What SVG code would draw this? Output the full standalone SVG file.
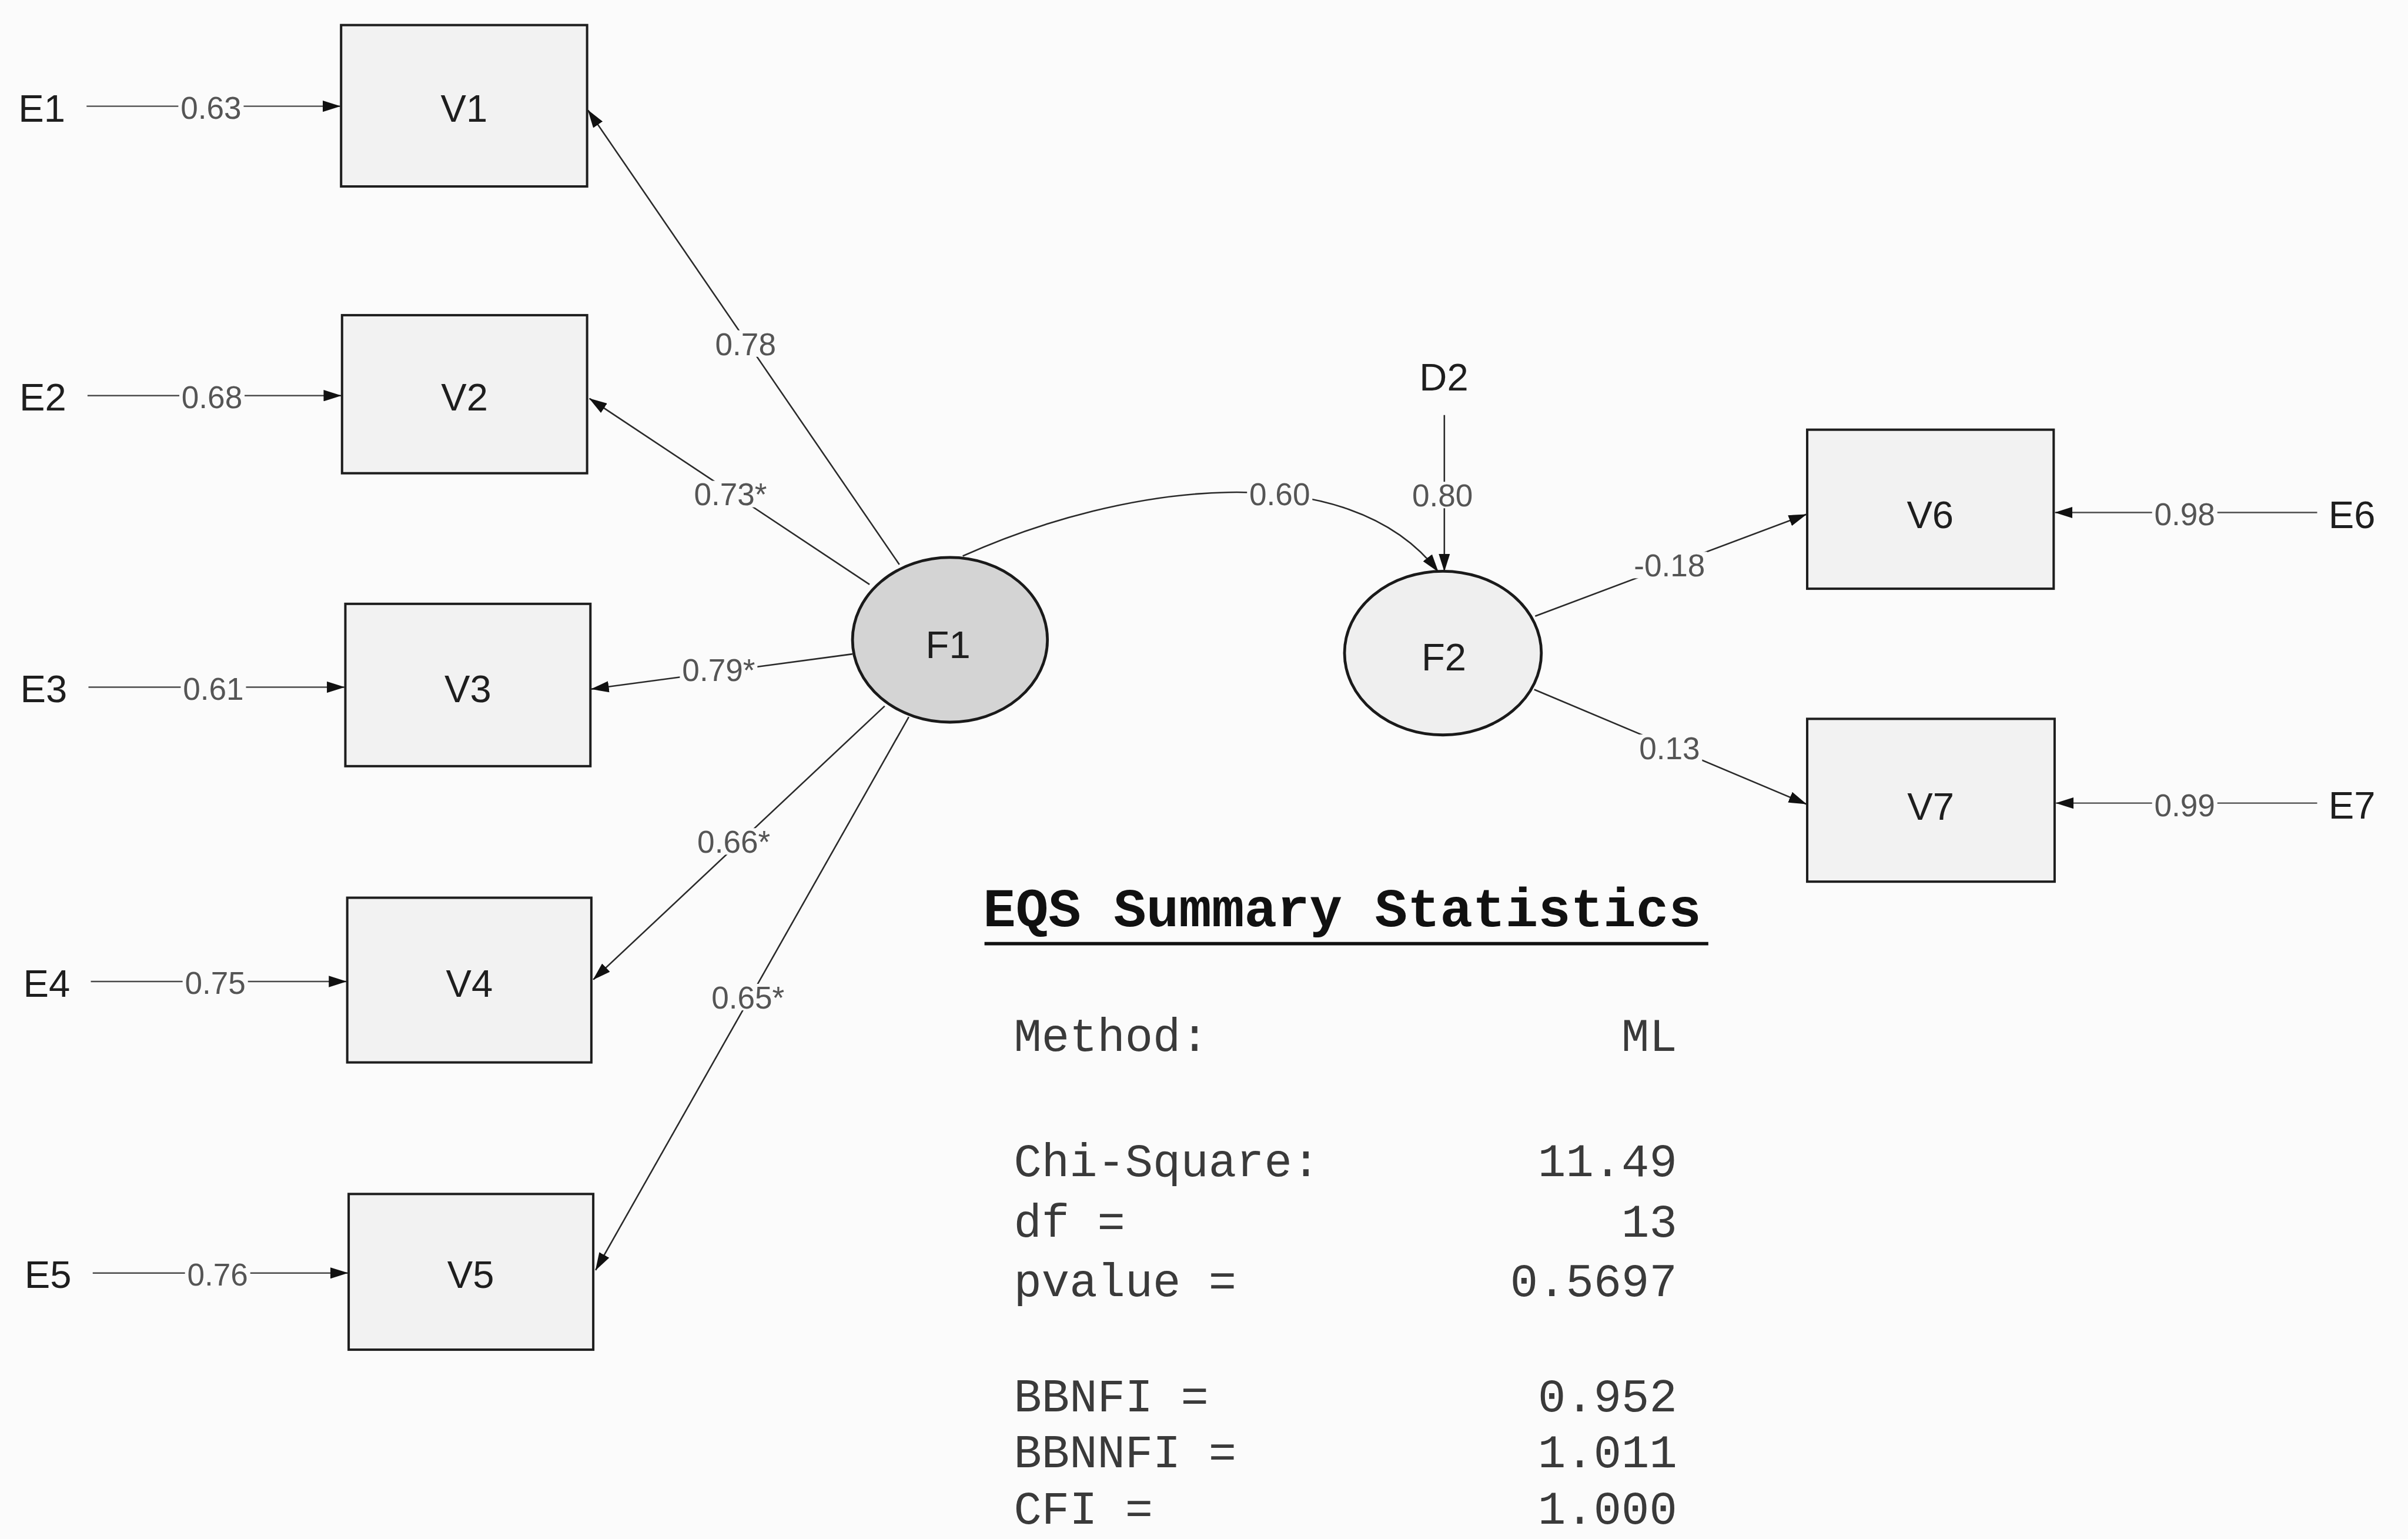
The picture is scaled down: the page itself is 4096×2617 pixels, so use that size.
<svg xmlns="http://www.w3.org/2000/svg" width="4096" height="2617" viewBox="0 0 4096 2617">
  <style>
    .page{fill:#fbfbfb}
    .box{fill:#f2f2f2;stroke:#1e1e1e;stroke-width:5}
    .f1{fill:#d4d4d4;stroke:#1a1a1a;stroke-width:6}
    .f2{fill:#efefef;stroke:#1a1a1a;stroke-width:6}
    .name{font-family:"Liberation Sans",Arial,sans-serif;font-size:81px;fill:#1e1e1e;text-anchor:middle}
    .ename{font-family:"Liberation Sans",Arial,sans-serif;font-size:81px;fill:#1e1e1e}
    .edge{fill:none;stroke:#2a2a2a;stroke-width:3.2;marker-end:url(#ah)}
    .err{fill:none;stroke:#4a4a4a;stroke-width:3;marker-end:url(#ah)}
    .gap{fill:#fbfbfb}
    .coef{font-family:"Liberation Sans",Arial,sans-serif;font-size:66px;fill:#555;text-anchor:middle}
    .title{font-family:"Liberation Mono","Courier New",monospace;font-size:115px;font-weight:bold;fill:#111}
    .mono{font-family:"Liberation Mono","Courier New",monospace;font-size:98px;fill:#3a3a3a}
    .val{text-anchor:end}
  </style>
  <defs>
    <marker id="ah" viewBox="0 0 38 24" refX="37" refY="12" markerWidth="38" markerHeight="24" markerUnits="userSpaceOnUse" orient="auto">
      <path d="M0,0 L38,12 L0,24 z" fill="#111"/>
    </marker>
  </defs>

  <rect class="page" x="0" y="0" width="4096" height="2617"/>

  <!-- drawn in source units, scaled down to the page -->
  <g transform="scale(0.80472)">

    <g id="connectors">
      <!-- error terms into the indicators -->
      <path class="err" d="M183,224.5 L719,224.5"/>
      <path class="err" d="M185,836 L721,836"/>
      <path class="err" d="M187,1452 L728,1452"/>
      <path class="err" d="M192,2074 L732,2074"/>
      <path class="err" d="M196,2690 L735,2690"/>
      <path class="err" d="M4898,1083 L4344,1083"/>
      <path class="err" d="M4898,1697 L4346,1697"/>
      <!-- disturbance into F2 -->
      <path class="edge" d="M3053,877 L3053,1207"/>
      <!-- loadings of F1 -->
      <path class="edge" d="M1901,1193 L1243,233"/>
      <path class="edge" d="M1838,1235 L1246,842"/>
      <path class="edge" d="M1802,1382 L1250,1456"/>
      <path class="edge" d="M1870,1492 L1254,2070"/>
      <path class="edge" d="M1921,1515 L1259,2684"/>
      <!-- structural path F1 to F2 -->
      <path class="edge" d="M2035,1175 C2380,1020 2850,960 3040,1208"/>
      <!-- loadings of F2 -->
      <path class="edge" d="M3245,1302 L3818,1087"/>
      <path class="edge" d="M3243,1457 L3818,1699"/>
    </g>

    <g id="edge-labels">
      <rect class="gap" x="377" y="199" width="138" height="56"/>
      <text class="coef" x="446" y="251">0.63</text>
      <rect class="gap" x="379" y="811" width="138" height="56"/>
      <text class="coef" x="448" y="863">0.68</text>
      <rect class="gap" x="382" y="1427" width="138" height="56"/>
      <text class="coef" x="451" y="1479">0.61</text>
      <rect class="gap" x="386" y="2048" width="138" height="56"/>
      <text class="coef" x="455" y="2100">0.75</text>
      <rect class="gap" x="391" y="2664" width="138" height="56"/>
      <text class="coef" x="460" y="2716">0.76</text>
      <rect class="gap" x="4549" y="1058" width="138" height="56"/>
      <text class="coef" x="4618" y="1110">0.98</text>
      <rect class="gap" x="4549" y="1673" width="138" height="56"/>
      <text class="coef" x="4618" y="1725">0.99</text>

      <rect class="gap" x="1507" y="698" width="138" height="56"/>
      <text class="coef" x="1576" y="750">0.78</text>
      <rect class="gap" x="1462" y="1016" width="164" height="56"/>
      <text class="coef" x="1544" y="1068">0.73*</text>
      <rect class="gap" x="1437" y="1387" width="164" height="56"/>
      <text class="coef" x="1519" y="1439">0.79*</text>
      <rect class="gap" x="1469" y="1750" width="164" height="56"/>
      <text class="coef" x="1551" y="1802">0.66*</text>
      <rect class="gap" x="1499" y="2079" width="164" height="56"/>
      <text class="coef" x="1581" y="2131">0.65*</text>

      <rect class="gap" x="2636" y="1016" width="138" height="56"/>
      <text class="coef" x="2705" y="1068">0.60</text>
      <rect class="gap" x="2980" y="1018" width="138" height="56"/>
      <text class="coef" x="3049" y="1070">0.80</text>
      <rect class="gap" x="3449" y="1166" width="160" height="56"/>
      <text class="coef" x="3529" y="1218">-0.18</text>
      <rect class="gap" x="3460" y="1552" width="138" height="56"/>
      <text class="coef" x="3529" y="1604">0.13</text>
    </g>

    <!-- error and disturbance names -->
    <g id="node-E1"><text class="ename" x="39" y="257">E1</text></g>
    <g id="node-E2"><text class="ename" x="41" y="868">E2</text></g>
    <g id="node-E3"><text class="ename" x="43" y="1484">E3</text></g>
    <g id="node-E4"><text class="ename" x="49" y="2106">E4</text></g>
    <g id="node-E5"><text class="ename" x="52" y="2722">E5</text></g>
    <g id="node-E6"><text class="ename" x="4922" y="1116">E6</text></g>
    <g id="node-E7"><text class="ename" x="4922" y="1730">E7</text></g>
    <g id="node-D2"><text class="name" x="3052" y="825">D2</text></g>

    <!-- observed indicators -->
    <g id="node-V1"><rect class="box" x="721" y="53" width="520" height="341"/><text class="name" x="981" y="257">V1</text></g>
    <g id="node-V2"><rect class="box" x="723" y="666" width="518" height="334"/><text class="name" x="982" y="868">V2</text></g>
    <g id="node-V3"><rect class="box" x="730" y="1276" width="518" height="343"/><text class="name" x="989" y="1484">V3</text></g>
    <g id="node-V4"><rect class="box" x="734" y="1897" width="516" height="348"/><text class="name" x="992" y="2106">V4</text></g>
    <g id="node-V5"><rect class="box" x="737" y="2523" width="517" height="329"/><text class="name" x="995" y="2722">V5</text></g>
    <g id="node-V6"><rect class="box" x="3820" y="908" width="521" height="336"/><text class="name" x="4080" y="1116">V6</text></g>
    <g id="node-V7"><rect class="box" x="3820" y="1519" width="523" height="344"/><text class="name" x="4081" y="1732">V7</text></g>

    <!-- latent factors -->
    <g id="node-F1"><ellipse class="f1" cx="2008" cy="1352" rx="206" ry="174"/><text class="name" x="2004" y="1391">F1</text></g>
    <g id="node-F2"><ellipse class="f2" cx="3050" cy="1380" rx="208" ry="173"/><text class="name" x="3052" y="1417">F2</text></g>

    <!-- fit summary -->
    <g id="summary-stats">
      <text class="title" x="2078" y="1957">EQS Summary Statistics</text>
      <line x1="2081" y1="1994" x2="3611" y2="1994" stroke="#111" stroke-width="7"/>
      <text class="mono" x="2143" y="2221">Method:</text>
      <text class="mono val" x="3545" y="2221">ML</text>
      <text class="mono" x="2143" y="2485">Chi-Square:</text>
      <text class="mono val" x="3545" y="2485">11.49</text>
      <text class="mono" x="2143" y="2613">df =</text>
      <text class="mono val" x="3545" y="2613">13</text>
      <text class="mono" x="2143" y="2739">pvalue =</text>
      <text class="mono val" x="3545" y="2739">0.5697</text>
      <text class="mono" x="2143" y="2982">BBNFI =</text>
      <text class="mono val" x="3545" y="2982">0.952</text>
      <text class="mono" x="2143" y="3101">BBNNFI =</text>
      <text class="mono val" x="3545" y="3101">1.011</text>
      <text class="mono" x="2143" y="3220">CFI =</text>
      <text class="mono val" x="3545" y="3220">1.000</text>
    </g>
  </g>
</svg>
